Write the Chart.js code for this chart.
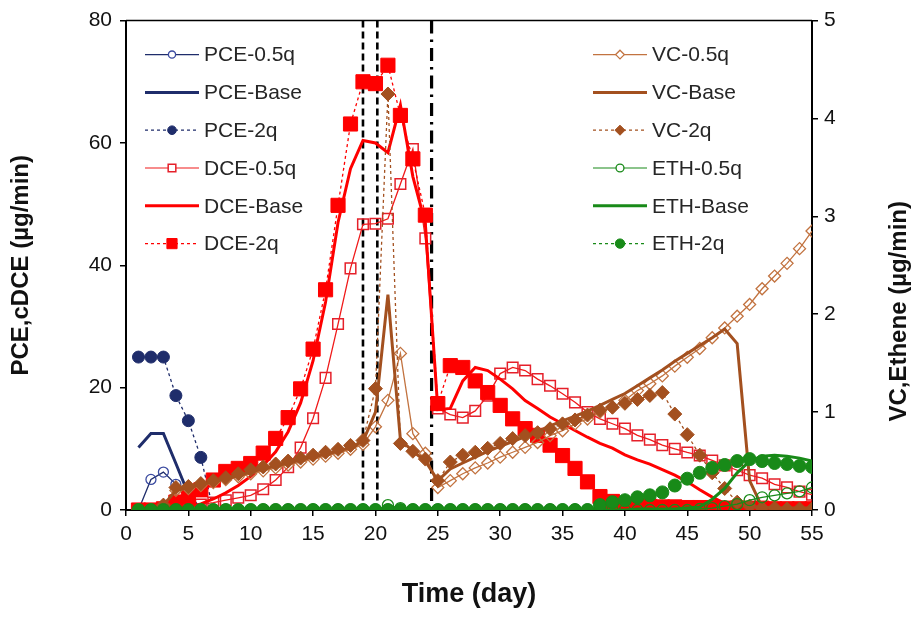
<!DOCTYPE html>
<html><head><meta charset="utf-8">
<script src="https://cdn.jsdelivr.net/npm/chart.js@4.4.1/dist/chart.umd.min.js"></script>
<style>html,body{margin:0;padding:0;background:#fff}canvas{display:block}</style>
</head><body>
<canvas id="c" width="916" height="617"></canvas>
<script>
const days = [1,2,3,4,5,6,7,8,9,10,11,12,13,14,15,16,17,18,19,20,21,22,23,24,25,26,27,28,29,30,31,32,33,34,35,36,37,38,39,40,41,42,43,44,45,46,47,48,49,50,51,52,53,54,55];

const pce05 = [0,5.0,6.2,4.2,1.5,0,0,0,0,0, 0,0,0,0,0,0,0,0,0,0, 0,0,0,0,0,0,0,0,0,0, 0,0,0,0,0,0,0,0,0,0, 0,0,0,0,0,0,0,0,0,0, 0,0,0,0,0];
const pceBase = [10.2,12.5,12.5,7.6,2.6,0,0,0,0,0, 0,0,0,0,0,0,0,0,0,0, 0,0,0,0,0,0,0,0,0,0, 0,0,0,0,0,0,0,0,0,0, 0,0,0,0,0,0,0,0,0,0, 0,0,0,0,0];
const pce2q = [25,25,25,18.7,14.6,8.6,0,0,0,0, 0,0,0,0,0,0,0,0,0,0, 0,0,0,0,0,0,0,0,0,0, 0,0,0,0,0,0,0,0,0,0, 0,0,0,0,0,0,0,0,0,0, 0,0,0,0,0];

const dce05 = [0,0,0,0.3,0.5,0.9,1.2,1.6,2,2.4, 3.4,4.9,7,10.2,15,21.6,30.4,39.5,46.7,46.8, 47.6,53.3,59,44.4,16.6,15.6,15.1,16.2,18.7,22.3, 23.3,22.8,21.4,20.3,19,17.6,16,14.9,14.1,13.3, 12.2,11.5,10.6,10,9.4,8.9,8.1,7.3,6.5,5.7, 5.2,4.2,3.7,3,2.5];
const dceBase = [0,0,0,0.2,0.5,1,1.8,2.8,4,5.5, 7.3,9.5,12.8,17.5,24.4,34,47,55.8,60.4,60, 58.4,66.2,54.5,46.8,16.4,16.6,21.1,23.3,22.8,21.4, 19.8,17.9,16.6,15.2,14.1,13,11.9,10.9,10.1,9, 8.2,7.5,6.6,5.7,4.6,3.3,2.1,1.1,0.5,0.3, 0.3,0.3,0.3,0.3,0.3];
const dce2q = [0,0,0.2,1.3,2.1,3.3,4.9,6.3,6.8,7.6, 9.3,11.7,15.1,19.8,26.3,36,49.8,63.1,70,69.7, 72.7,64.5,57.4,48.2,17.4,23.6,23.3,21.1,19.2,17.1, 14.9,13.3,12.2,10.6,8.9,6.8,4.6,2.2,1.4,0.9, 0.7,0.6,0.5,0.5,0.4,0.4,0.4,0.3,0.3,0.3, 0.3,0.2,0.2,0.2,0.2];

const vc05 = [0,0,0.05,0.2,0.22,0.25,0.28,0.31,0.34,0.37, 0.4,0.43,0.46,0.49,0.52,0.55,0.58,0.62,0.67,0.85, 1.12,1.6,0.78,0.58,0.23,0.3,0.37,0.43,0.48,0.54, 0.59,0.64,0.69,0.76,0.81,0.88,0.93,1.0,1.05,1.12, 1.22,1.29,1.37,1.47,1.56,1.65,1.76,1.86,1.98,2.1, 2.26,2.39,2.52,2.67,2.85];
const vcBase = [0,0,0.05,0.2,0.23,0.26,0.29,0.32,0.35,0.39, 0.42,0.45,0.48,0.51,0.54,0.57,0.6,0.64,0.7,1.0, 2.2,0.72,0.6,0.5,0.3,0.42,0.48,0.54,0.6,0.65, 0.7,0.75,0.8,0.86,0.91,0.96,1.01,1.07,1.13,1.19, 1.27,1.35,1.43,1.52,1.6,1.68,1.76,1.85,1.7,0.3, 0.03,0.02,0.02,0.02,0.02];
const vc2q = [0,0,0.05,0.23,0.24,0.27,0.3,0.33,0.37,0.41, 0.44,0.47,0.5,0.53,0.56,0.59,0.62,0.66,0.71,1.24, 4.25,0.68,0.6,0.52,0.3,0.49,0.56,0.59,0.63,0.68, 0.73,0.76,0.79,0.83,0.88,0.92,0.97,1.02,1.05,1.09, 1.13,1.17,1.2,0.98,0.77,0.56,0.38,0.22,0.08,0.04, 0.02,0.02,0.01,0.01,0.01];

const eth05 = [0,0,0,0,0,0,0,0,0,0, 0,0,0,0,0,0,0,0,0,0, 0.05,0.02,0,0,0,0,0,0,0,0, 0,0,0,0,0,0,0,0,0,0, 0,0,0,0,0,0.01,0.02,0.04,0.06,0.1, 0.13,0.15,0.17,0.19,0.23];
const ethBase = [0,0,0,0,0,0,0,0,0,0, 0,0,0,0,0,0,0,0,0,0, 0,0,0,0,0,0,0,0,0,0, 0,0,0,0,0,0,0,0,0,0, 0.01,0.01,0.01,0.01,0.02,0.03,0.11,0.22,0.38,0.5, 0.55,0.56,0.55,0.53,0.5];
const eth2q = [0,0,0,0,0,0,0,0,0,0, 0,0,0,0,0,0,0,0,0,0, 0,0,0,0,0,0,0,0,0,0, 0,0,0,0,0,0,0,0.05,0.08,0.1, 0.13,0.15,0.18,0.25,0.32,0.38,0.43,0.46,0.5,0.52, 0.5,0.48,0.47,0.45,0.44];

const xRange = [0, 55, 5];
const yLeftRange = [0, 80, 20];
const yRightRange = [0, 5, 1];
const markerDays = [19, 20.15];
const switchDay = [24.5];

const F = '"Liberation Sans", Arial, sans-serif';
const NAVY = '#1f2d6b', RED = '#ff0000', BROWN = '#a3501f', BROWN_L = '#c27340', GREEN = '#188a18';
const CLEAR = 'rgba(255,255,255,0)';

function xy(arr){ return arr.map((v,i)=>({x:days[i], y:v})); }
function ds(label, arr, axis, o){
  return Object.assign({label, data: xy(arr), yAxisID: axis, tension: 0, fill:false,
    pointHoverRadius: 0}, o);
}
const thin = 1.3, thick = 3;
const datasets = [
  ds('PCE-0.5q', pce05, 'y', {borderColor:NAVY, borderWidth:thin, pointStyle:'circle', pointRadius:5, pointBackgroundColor:CLEAR, pointBorderColor:'#3a4aa0', pointBorderWidth:1.3, order:12}),
  ds('PCE-Base', pceBase, 'y', {borderColor:NAVY, borderWidth:thick, pointRadius:0, order:11}),
  ds('PCE-2q', pce2q, 'y', {borderColor:NAVY, borderWidth:thin, borderDash:[3,3], pointStyle:'circle', pointRadius:6, pointBackgroundColor:NAVY, pointBorderColor:NAVY, pointBorderWidth:1, order:10}),
  ds('DCE-0.5q', dce05, 'y', {borderColor:'#f01a1a', borderWidth:thin, pointStyle:'rect', pointRadius:7.5, pointBackgroundColor:CLEAR, pointBorderColor:'#e5202a', pointBorderWidth:1.5, order:9}),
  ds('DCE-Base', dceBase, 'y', {borderColor:RED, borderWidth:thick, pointRadius:0, order:8}),
  ds('DCE-2q', dce2q, 'y', {borderColor:RED, borderWidth:thin, borderDash:[3,3], pointStyle:'rect', pointRadius:10, pointBackgroundColor:RED, pointBorderColor:RED, pointBorderWidth:1, order:7}),
  ds('VC-0.5q', vc05, 'y2', {borderColor:BROWN_L, borderWidth:thin, pointStyle:'rectRot', pointRadius:6, pointBackgroundColor:CLEAR, pointBorderColor:BROWN_L, pointBorderWidth:1.3, order:6}),
  ds('VC-Base', vcBase, 'y2', {borderColor:BROWN, borderWidth:thick, pointRadius:0, order:5}),
  ds('VC-2q', vc2q, 'y2', {borderColor:BROWN, borderWidth:thin, borderDash:[3,3], pointStyle:'rectRot', pointRadius:7, pointBackgroundColor:BROWN, pointBorderColor:BROWN, pointBorderWidth:1, order:4}),
  ds('ETH-0.5q', eth05, 'y2', {borderColor:GREEN, borderWidth:thin, pointStyle:'circle', pointRadius:5.5, pointBackgroundColor:CLEAR, pointBorderColor:GREEN, pointBorderWidth:1.3, order:3}),
  ds('ETH-Base', ethBase, 'y2', {borderColor:GREEN, borderWidth:thick, pointRadius:0, order:2}),
  ds('ETH-2q', eth2q, 'y2', {borderColor:GREEN, borderWidth:thin, borderDash:[3,3], pointStyle:'circle', pointRadius:6.5, pointBackgroundColor:GREEN, pointBorderColor:GREEN, pointBorderWidth:1, order:1})
];

function marker(ctx, style, r, x, y, fill, stroke, lw){
  ctx.save();
  ctx.beginPath();
  if (style === 'circle') ctx.arc(x, y, r, 0, Math.PI*2);
  else if (style === 'rect') { const s = r*Math.SQRT1_2; ctx.rect(x-s, y-s, 2*s, 2*s); }
  else if (style === 'rectRot') { ctx.moveTo(x, y-r); ctx.lineTo(x+r, y); ctx.lineTo(x, y+r); ctx.lineTo(x-r, y); ctx.closePath(); }
  ctx.fillStyle = fill; ctx.fill();
  ctx.setLineDash([]); ctx.lineWidth = lw; ctx.strokeStyle = stroke; ctx.stroke();
  ctx.restore();
}

const refLines = {
  id: 'refLines',
  beforeDatasetsDraw(chart){
    const {ctx, chartArea:a, scales:{x}} = chart;
    ctx.save();
    ctx.strokeStyle = '#000';
    ctx.lineWidth = 2.6;
    ctx.setLineDash([7,4]);
    markerDays.forEach(d => { const px = x.getPixelForValue(d); ctx.beginPath(); ctx.moveTo(px, a.top); ctx.lineTo(px, a.bottom); ctx.stroke(); });
    ctx.lineWidth = 3.2;
    ctx.setLineDash([13,6,2.5,6]);
    switchDay.forEach(d => { const px = x.getPixelForValue(d); ctx.beginPath(); ctx.moveTo(px, a.top); ctx.lineTo(px, a.bottom); ctx.stroke(); });
    ctx.setLineDash([]);
    ctx.lineWidth = 1.5;
    ctx.beginPath(); ctx.moveTo(a.left, a.top); ctx.lineTo(a.right, a.top); ctx.stroke();
    ctx.restore();
  }
};

const twoColLegend = {
  id: 'twoColLegend',
  afterDatasetsDraw(chart){
    const {ctx, chartArea:a} = chart;
    const blocks = [{x: a.left + 19, idx:[0,1,2,3,4,5]}, {x: a.left + 467, idx:[6,7,8,9,10,11]}];
    ctx.save();
    ctx.font = '21px ' + F;
    ctx.textBaseline = 'middle';
    ctx.textAlign = 'left';
    blocks.forEach(b => {
      b.idx.forEach((di, row) => {
        const d = chart.data.datasets[di];
        const y = a.top + 34 + row*37.8;
        ctx.save();
        ctx.strokeStyle = d.borderColor;
        ctx.lineWidth = d.borderWidth === thick ? 3 : 1.2;
        ctx.setLineDash(d.borderDash || []);
        ctx.beginPath(); ctx.moveTo(b.x, y); ctx.lineTo(b.x + 54, y); ctx.stroke();
        ctx.restore();
        if (d.pointRadius > 0) {
          marker(ctx, d.pointStyle, d.pointRadius*0.72, b.x + 27, y, d.pointBackgroundColor === CLEAR ? '#fff' : d.pointBackgroundColor, d.pointBorderColor, d.pointBorderWidth);
        }
        ctx.fillStyle = '#262626';
        ctx.fillText(d.label, b.x + 59, y + 1);
      });
    });
    ctx.restore();
  }
};

const rightTitle = {
  id: 'rightTitle',
  afterDraw(chart){
    const {ctx, chartArea:a} = chart;
    ctx.save();
    ctx.translate(899, (a.top + a.bottom)/2 + 46);
    ctx.rotate(-Math.PI/2);
    ctx.font = 'bold 24px ' + F;
    ctx.fillStyle = '#111';
    ctx.textAlign = 'center';
    ctx.textBaseline = 'middle';
    ctx.fillText('VC,Ethene (µg/min)', 0, 0);
    ctx.restore();
  }
};

new Chart(document.getElementById('c'), {
  type: 'line',
  data: { datasets },
  options: {
    responsive: false,
    animation: false,
    devicePixelRatio: 1,
    layout: { padding: { top: 19, left: 0, right: 0, bottom: 0 } },
    plugins: { legend: { display: false }, tooltip: { enabled: false } },
    scales: {
      x: {
        type: 'linear', min: xRange[0], max: xRange[1],
        afterFit(s){ s.height = 107; },
        ticks: { stepSize: xRange[2], font: { size: 21, family: F }, color: '#111', padding: 6, maxRotation: 0, autoSkip: false },
        grid: { drawOnChartArea: false, drawTicks: true, tickLength: 6, color: '#000', lineWidth: 1.5 },
        border: { color: '#000', width: 2 },
        title: { display: true, text: 'Time (day)', font: { size: 27, weight: 'bold', family: F }, color: '#111', padding: { top: 0, bottom: 6 } }
      },
      y: {
        position: 'left', min: yLeftRange[0], max: yLeftRange[1],
        afterFit(s){ s.width = 126; },
        ticks: { stepSize: yLeftRange[2], font: { size: 21, family: F }, color: '#111', padding: 8 },
        grid: { drawOnChartArea: false, drawTicks: true, tickLength: 6, color: '#000', lineWidth: 1.5 },
        border: { color: '#000', width: 2 },
        title: { display: true, text: 'PCE,cDCE (µg/min)', font: { size: 24, weight: 'bold', family: F }, color: '#111', padding: { top: 7, bottom: 0 } }
      },
      y2: {
        position: 'right', min: yRightRange[0], max: yRightRange[1],
        afterFit(s){ s.width = 104; },
        ticks: { stepSize: yRightRange[2], font: { size: 21, family: F }, color: '#111', padding: 6 },
        grid: { drawOnChartArea: false, drawTicks: true, tickLength: 6, color: '#000', lineWidth: 1.5 },
        border: { color: '#000', width: 2 }
      }
    }
  },
  plugins: [refLines, twoColLegend, rightTitle]
});
</script>
</body></html>
